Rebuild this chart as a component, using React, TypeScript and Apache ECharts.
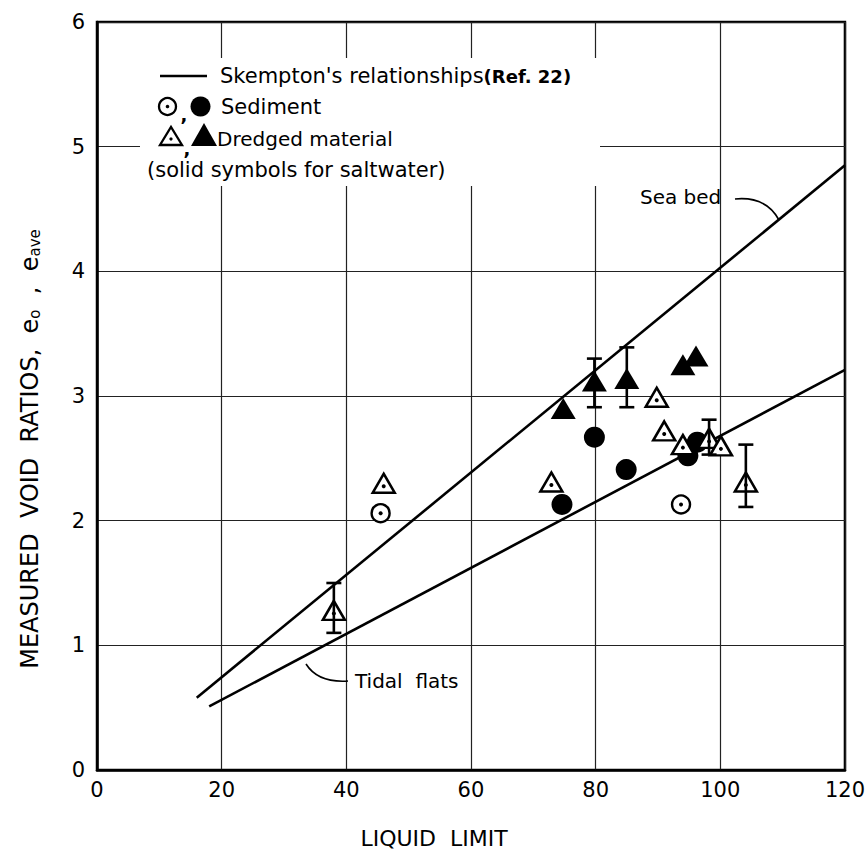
import React, { useEffect, useRef } from "react";
import * as echarts from "echarts";

const FONT = "DejaVu Sans";

// Skempton's relationships (line endpoints: liquid limit, void ratio)
const seaBedLine: [number, number][] = [[16, 0.58], [120, 4.85]];
const tidalFlatsLine: [number, number][] = [[18, 0.51], [120, 3.21]];

// Sediment
const sedimentOpen: [number, number][] = [[45.5, 2.06], [93.7, 2.13]];
const sedimentSolid: [number, number][] = [[74.6, 2.13], [79.8, 2.67], [84.9, 2.41], [94.8, 2.52], [96.3, 2.63]];

// Dredged material
const dredgedOpen: [number, number][] = [
  [38, 1.28], [46, 2.30], [72.9, 2.31], [89.8, 2.99], [91.0, 2.72],
  [94.0, 2.61], [98.2, 2.66], [100.1, 2.60], [104.1, 2.31],
];
const dredgedSolid: [number, number][] = [[74.8, 2.90], [79.8, 3.12], [85.0, 3.14], [94.0, 3.25], [96.1, 3.32]];

// Error bars: [liquid limit, low, high]
const errorBars: [number, number, number][] = [
  [38, 1.10, 1.50], [79.8, 2.91, 3.30], [85.0, 2.91, 3.39], [98.2, 2.53, 2.81], [104.1, 2.11, 2.61],
];

const xTicks = [0, 20, 40, 60, 80, 100, 120];
const yTicks = [0, 1, 2, 3, 4, 5, 6];

export default function App() {
  const ref = useRef<HTMLDivElement>(null);
  useEffect(() => {
    if (!ref.current) return;
    const chart = echarts.init(ref.current, null, { renderer: "svg" });
    const txt = { fontFamily: FONT, fill: "#000" };
    chart.setOption({
      animation: false,
      backgroundColor: "#fff",
      grid: { left: 97, right: 20, top: 22, bottom: 90, show: true, borderColor: "#000", borderWidth: 2.5 },
      xAxis: {
        type: "value", min: xTicks[0], max: xTicks[xTicks.length - 1], interval: 20,
        axisLine: { show: true, lineStyle: { color: "#000", width: 2.5 } },
        axisTick: { show: false },
        axisLabel: { color: "#000", fontSize: 21, fontFamily: FONT, margin: 9 },
        splitLine: { show: true, lineStyle: { color: "#222", width: 1.2 } },
      },
      yAxis: {
        type: "value", min: yTicks[0], max: yTicks[yTicks.length - 1], interval: 1,
        axisLine: { show: true, lineStyle: { color: "#000", width: 2.5 } },
        axisTick: { show: false },
        axisLabel: { color: "#000", fontSize: 21, fontFamily: FONT, margin: 12 },
        splitLine: { show: true, lineStyle: { color: "#222", width: 1.2 } },
      },
      series: [
        { name: "Sea bed", type: "line", data: seaBedLine, showSymbol: false, symbol: "none",
          lineStyle: { color: "#000", width: 2.6 }, z: 3 },
        { name: "Tidal flats", type: "line", data: tidalFlatsLine, showSymbol: false, symbol: "none",
          lineStyle: { color: "#000", width: 2.6 }, z: 3 },
        { name: "Sediment (solid)", type: "scatter", data: sedimentSolid, symbol: "circle", symbolSize: 21,
          itemStyle: { color: "#000", opacity: 1 }, z: 4 },
        { name: "Sediment (open)", type: "scatter", data: sedimentOpen, symbol: "circle", symbolSize: 18,
          itemStyle: { color: "#fff", borderColor: "#000", borderWidth: 2.4, opacity: 1 }, z: 4 },
        { name: "Sediment dots", type: "scatter", data: sedimentOpen, symbol: "circle", symbolSize: 4,
          itemStyle: { color: "#000", opacity: 1 }, z: 5 },
        { name: "Dredged (solid)", type: "scatter", data: dredgedSolid, symbol: "triangle", symbolSize: [25, 21],
          itemStyle: { color: "#000", opacity: 1 }, z: 4 },
        { name: "Dredged (open)", type: "scatter", data: dredgedOpen, symbol: "triangle", symbolSize: [22, 19],
          itemStyle: { color: "#fff", borderColor: "#000", borderWidth: 2.5, opacity: 1 }, z: 5 },
        { name: "Dredged dots", type: "scatter", data: dredgedOpen, symbol: "circle", symbolSize: 4,
          symbolOffset: [0, 3], itemStyle: { color: "#000", opacity: 1 }, z: 6 },
        {
          name: "Error bars", type: "custom", data: errorBars, z: 7,
          encode: { x: 0, y: [1, 2] },
          renderItem: (params: any, api: any) => {
            const x = api.value(0);
            const lo = api.coord([x, api.value(1)]);
            const hi = api.coord([x, api.value(2)]);
            const cw = 7.5;
            const st = { stroke: "#000", lineWidth: 2.6 };
            return {
              type: "group",
              children: [
                { type: "line", shape: { x1: lo[0], y1: lo[1], x2: hi[0], y2: hi[1] }, style: st },
                { type: "line", shape: { x1: lo[0] - cw, y1: lo[1], x2: lo[0] + cw, y2: lo[1] }, style: st },
                { type: "line", shape: { x1: hi[0] - cw, y1: hi[1], x2: hi[0] + cw, y2: hi[1] }, style: st },
              ],
            };
          },
        },
      ],
      graphic: [
        // legend
        { type: "rect", shape: { x: 140, y: 58, width: 460, height: 128 }, style: { fill: "#fff" }, z: 2 },
        { type: "line", shape: { x1: 160, y1: 76, x2: 207, y2: 76 }, style: { stroke: "#000", lineWidth: 2.6 }, z: 10 },
        { type: "text", x: 220, y: 76, z: 10, style: { ...txt, text: "Skempton's relationships{b|(Ref. 22)}", fontSize: 21,
          verticalAlign: "middle", rich: { b: { fontFamily: FONT, fontSize: 18, fontWeight: "bold", fill: "#000" } } } },
        { type: "circle", shape: { cx: 167.5, cy: 106.5, r: 8.5 }, style: { fill: "#fff", stroke: "#000", lineWidth: 2.3 }, z: 10 },
        { type: "circle", shape: { cx: 167.5, cy: 106.5, r: 1.8 }, style: { fill: "#000" }, z: 10 },
        { type: "text", x: 184, y: 114, z: 10, style: { ...txt, text: ",", fontSize: 18, fontWeight: "bold", align: "center", verticalAlign: "middle" } },
        { type: "circle", shape: { cx: 200.5, cy: 106.5, r: 10 }, style: { fill: "#000" }, z: 10 },
        { type: "text", x: 221, y: 107, z: 10, style: { ...txt, text: "Sediment", fontSize: 21, verticalAlign: "middle" } },
        { type: "polygon", shape: { points: [[160, 145], [182, 145], [171, 127]] }, style: { fill: "#fff", stroke: "#000", lineWidth: 2.3 }, z: 10 },
        { type: "circle", shape: { cx: 171, cy: 139, r: 1.6 }, style: { fill: "#000" }, z: 10 },
        { type: "text", x: 187, y: 148, z: 10, style: { ...txt, text: ",", fontSize: 18, fontWeight: "bold", align: "center", verticalAlign: "middle" } },
        { type: "polygon", shape: { points: [[191, 146], [217, 146], [204, 123]] }, style: { fill: "#000" }, z: 10 },
        { type: "text", x: 217, y: 139, z: 10, style: { ...txt, text: "Dredged material", fontSize: 20, verticalAlign: "middle" } },
        { type: "text", x: 147, y: 170, z: 10, style: { ...txt, text: "(solid symbols for saltwater)", fontSize: 21, verticalAlign: "middle" } },
        // annotations
        { type: "text", x: 640, y: 197, z: 10, style: { ...txt, text: "Sea bed", fontSize: 20, verticalAlign: "middle" } },
        { type: "bezierCurve", shape: { x1: 735, y1: 199, cpx1: 766, cpy1: 196, x2: 779, y2: 220 }, style: { stroke: "#000", lineWidth: 1.6, fill: "none" }, z: 10 },
        { type: "text", x: 355, y: 681, z: 10, style: { ...txt, text: "Tidal  flats", fontSize: 20, verticalAlign: "middle" } },
        { type: "bezierCurve", shape: { x1: 348, y1: 681, cpx1: 318, cpy1: 683, x2: 306, y2: 664 }, style: { stroke: "#000", lineWidth: 1.6, fill: "none" }, z: 10 },
        // axis titles
        { type: "text", x: 434, y: 838, z: 10, style: { ...txt, text: "LIQUID  LIMIT", fontSize: 22, align: "center", verticalAlign: "middle" } },
        { type: "text", x: 30, y: 449, rotation: Math.PI / 2, z: 10, style: { ...txt,
          text: "MEASURED  VOID  RATIOS,  e{s|o}  ,  e{s|ave}", fontSize: 24, align: "center", verticalAlign: "middle",
          rich: { s: { fontFamily: FONT, fontSize: 15, fill: "#000", verticalAlign: "bottom", padding: [7, 0, 0, 0] } } } },
      ],
    });
    return () => chart.dispose();
  }, []);
  return <div ref={ref} style={{ position: "fixed", left: 0, top: 0, width: 868, height: 860 }} />;
}
